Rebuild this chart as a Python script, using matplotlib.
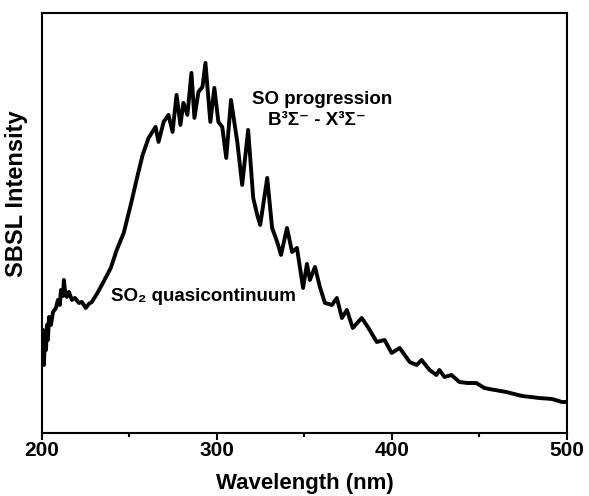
"""Plot SBSL spectrum with SO progression and SO2 quasicontinuum."""

import matplotlib
matplotlib.use('Agg')
import matplotlib.pyplot as plt
from matplotlib.ticker import MultipleLocator

# spectrum (wavelength in nm, intensity in arb. units)
wavelength = [
    200.0, 200.6, 201.1, 201.7, 202.3, 202.8, 203.4, 204.0, 205.1, 206.3,
    208.0, 209.1, 210.2, 210.8, 212.0, 212.5, 213.1, 214.2, 215.4, 217.1,
    218.8, 221.1, 222.8, 225.0, 226.7, 228.5, 231.0, 234.2, 239.3, 242.7,
    246.7, 250.7, 254.7, 257.5, 260.9, 264.9, 266.6, 269.5, 272.3, 274.6,
    276.9, 279.1, 280.8, 283.1, 285.4, 287.1, 289.4, 291.7, 293.4, 296.2,
    298.5, 300.8, 303.0, 305.3, 308.0, 311.6, 314.4, 317.8, 320.7, 323.0,
    324.7, 328.7, 331.5, 334.4, 336.6, 340.0, 342.9, 345.7, 349.2, 351.4,
    353.1, 356.0, 358.8, 361.7, 365.7, 368.5, 371.4, 374.2, 377.6, 382.7,
    386.2, 391.3, 395.8, 399.8, 404.4, 410.1, 414.1, 416.9, 421.5, 425.4,
    427.1, 430.0, 434.0, 438.5, 443.1, 448.2, 452.8, 455.6, 465.3, 474.4,
    484.1, 491.5, 497.2, 500.0]
intensity = [
    78, 103, 68, 98, 83, 108, 93, 116, 108, 121,
    125, 133, 128, 143, 137, 153, 143, 136, 141, 133,
    135, 130, 131, 125, 129, 131, 138, 148, 165, 183,
    200, 228, 258, 278, 295, 306, 291, 311, 318, 301,
    338, 308, 330, 318, 360, 315, 341, 346, 370, 311,
    345, 311, 306, 275, 333, 291, 248, 303, 235, 218,
    208, 255, 205, 191, 178, 205, 181, 185, 145, 169,
    153, 166, 146, 130, 128, 135, 115, 123, 105, 115,
    106, 91, 93, 80, 85, 71, 68, 73, 63, 58,
    63, 56, 58, 51, 50, 50, 45, 44, 41, 37,
    35, 34, 31, 31]


def main():
    """Main program called during execution."""

    plt.rcParams['font.family'] = ['Liberation Sans', 'DejaVu Sans']
    plt.rcParams['font.weight'] = 'bold'

    # initialize figure
    fig = plt.figure(figsize=(5.89, 4.96), dpi=100)
    ax = fig.add_axes([0.0713, 0.127, 0.8913, 0.847])

    # plot spectrum
    ax.plot(wavelength, intensity, color='black', lw=2.8)

    # annotations
    ax.text(360, 333, 'SO progression', ha='center', va='center',
            fontsize=13.5, fontweight='bold')
    ax.text(357, 312, 'B³Σ⁻ - X³Σ⁻', ha='center', va='center',
            fontsize=13.5, fontweight='bold')
    ax.text(239.3, 136, 'SO₂ quasicontinuum', ha='left', va='center',
            fontsize=13.5, fontweight='bold')

    # set axes properties
    ax.set_xlim(200, 500)
    ax.set_ylim(0, 420)
    ax.xaxis.set_major_locator(MultipleLocator(100))
    ax.xaxis.set_minor_locator(MultipleLocator(50))
    ax.tick_params(axis='x', which='major', direction='out', length=5,
                   width=1.5, labelsize=15, pad=1)
    ax.tick_params(axis='x', which='minor', direction='out', length=3,
                   width=1.5)
    ax.set_yticks([])
    for spine in ax.spines.values():
        spine.set_linewidth(1.5)
    ax.set_xlabel('Wavelength (nm)', fontsize=16, fontweight='bold')
    ax.xaxis.set_label_coords(0.5, -0.095)
    ax.set_ylabel('SBSL Intensity', fontsize=17, fontweight='bold')
    ax.yaxis.set_label_coords(-0.027, 0.57)

    # save figure
    fig.savefig('out.png', dpi=100)


if __name__ == '__main__':
    main()
